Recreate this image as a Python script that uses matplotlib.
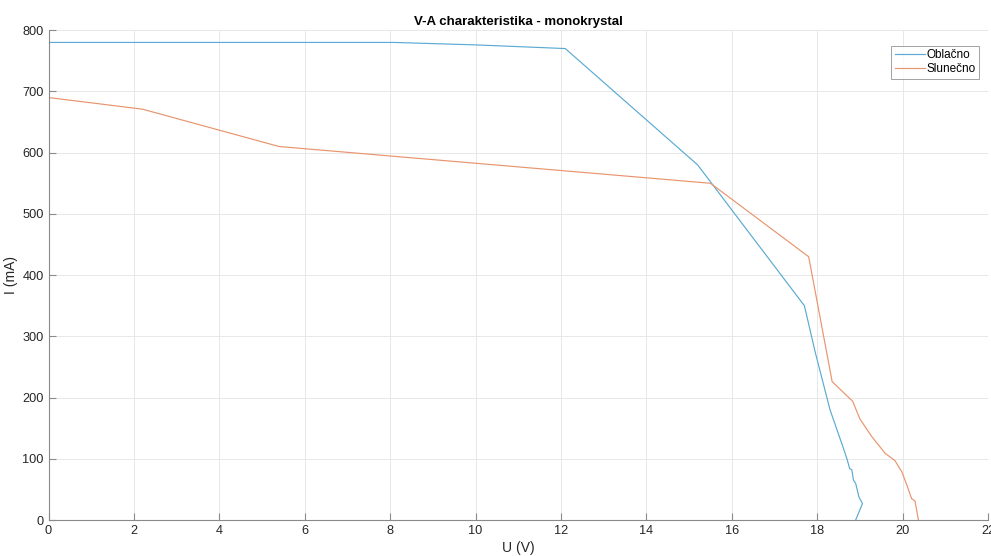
import matplotlib.pyplot as plt
import numpy as np

plt.rcParams['font.family'] = ['Liberation Sans', 'DejaVu Sans']

# Oblačno (cloudy)
u_obl = [0, 8.1, 10.0, 12.1, 15.2, 17.7, 17.95, 18.3, 18.6, 18.7, 18.76, 18.81, 18.85, 18.9, 18.98, 19.06, 18.9]
i_obl = [780, 780, 776, 770, 580, 350, 275, 180, 120, 99, 84, 82, 65, 60, 37, 27, 0]

# Slunečno (sunny)
u_sl = [0, 2.2, 5.4, 15.5, 17.8, 18.35, 18.83, 19.0, 19.28, 19.59, 19.82, 19.98, 20.1, 20.21, 20.29, 20.37]
i_sl = [690, 671, 610, 550, 430, 226, 194, 165, 136, 109, 97, 79, 57, 35, 31, 0]

fig = plt.figure(figsize=(9.91, 5.56), dpi=100)
ax = fig.add_axes([0.049, 0.0647, 0.948, 0.881])

ax.plot(u_obl, i_obl, color='#5aaad3', lw=0.85, label='Oblačno')
ax.plot(u_sl, i_sl, color='#e8946e', lw=0.85, label='Slunečno')

ax.set_xlim(0, 22)
ax.set_ylim(0, 800)
ax.set_xticks(np.arange(0, 23, 2))
ax.set_yticks(np.arange(0, 801, 100))
ax.grid(True, color='#e8e8e8', lw=0.7)
ax.set_axisbelow(True)
for s in ['top', 'right']:
    ax.spines[s].set_visible(False)
for s in ['left', 'bottom']:
    ax.spines[s].set_color('#8a8a8a')
ax.tick_params(direction='in', length=5, colors='#8a8a8a', labelcolor='#262626', labelsize=9.2)

ax.set_title('V-A charakteristika - monokrystal', fontsize=9.5, fontweight='bold', pad=4)
ax.set_xlabel('U (V)', fontsize=10, labelpad=3, color='#262626')
ax.set_ylabel('I (mA)', fontsize=10, labelpad=3, color='#262626')

leg = ax.legend(loc='upper right', fontsize=8.5, frameon=True, fancybox=False,
                handlelength=2.6, handletextpad=0.1, borderpad=0.3, labelspacing=0.15,
                bbox_to_anchor=(0.997, 0.98))
leg.get_frame().set_edgecolor('#8a8a8a')
leg.get_frame().set_linewidth(0.7)

fig.savefig('out.png', dpi=100)
